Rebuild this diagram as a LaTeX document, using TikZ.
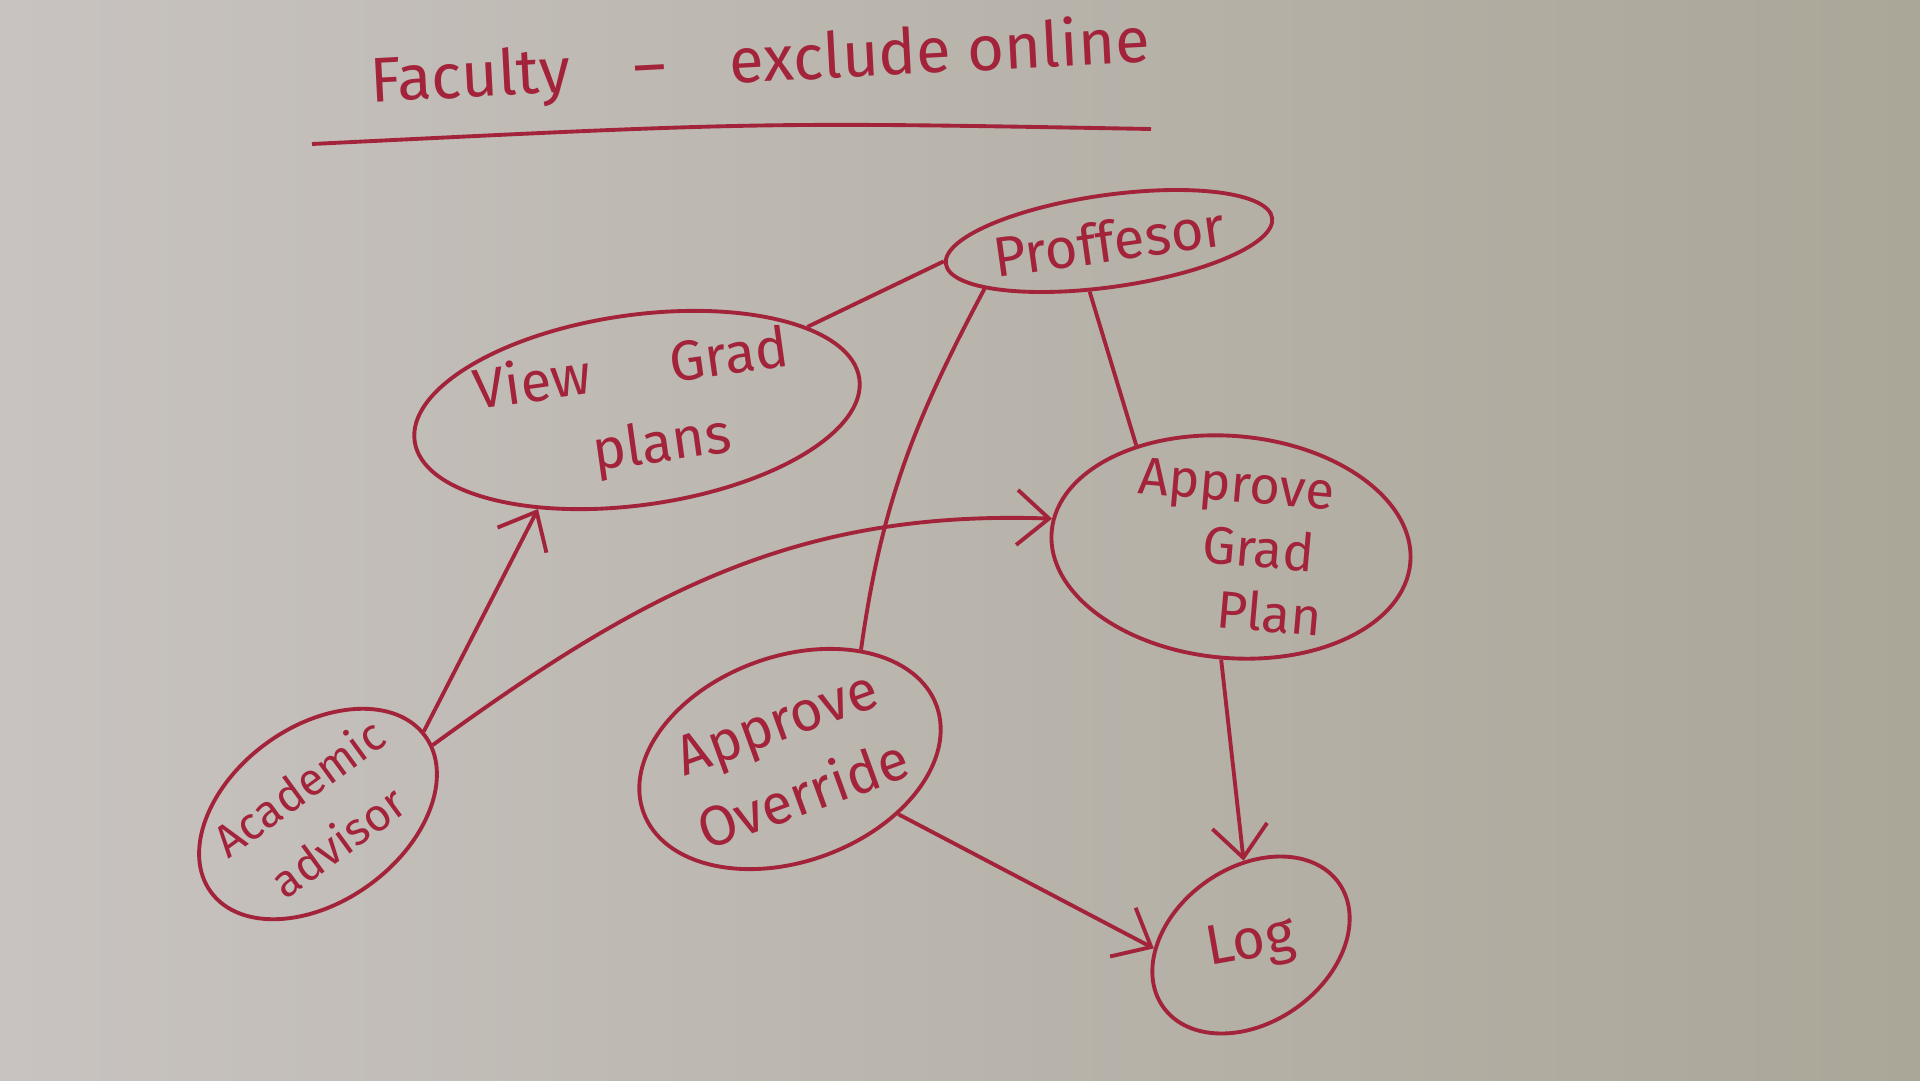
\documentclass[tikz,border=0pt]{standalone}
\usepackage{fontspec}
\setmainfont{Fira Sans}
\usepackage{tikz}
\usetikzlibrary{arrows.meta,shapes.geometric}
\definecolor{wbink}{HTML}{A3243A}
\definecolor{wbleft}{HTML}{C8C3C0}
\definecolor{wbright}{HTML}{AAA698}

\begin{document}
\begin{tikzpicture}[x=0.1mm,y=0.1mm,
  uc/.style={ellipse,draw=wbink,line width=1.1pt,inner sep=0pt,align=center,
    text=wbink,font=\fontsize{16}{22}\selectfont},
  link/.style={wbink,line width=1.1pt},
  arr/.style={link,-{Straight Barb[length=3.2mm,width=5.5mm]}}]
  \useasboundingbox (0,0) rectangle (1920,1080);
  \shade[left color=wbleft,right color=wbright] (0,0) rectangle (1920,1080);
  \node[text=wbink,font=\fontsize{18}{22}\selectfont,rotate=3] (title) at (760,1016)
    {Faculty\quad--\quad exclude online};
  \coordinate (rulea) at (312,936);
  \coordinate (ruleb) at (1151,951);
  \draw[link] (rulea) .. controls (760,958) .. (ruleb);
  \node[uc,minimum width=31mm,minimum height=9.2mm,rotate=8] (prof) at (1109,839) {Proffesor};
  \node[uc,minimum width=37.5mm,minimum height=19mm,rotate=8] (view) at (637,670)
    {View\hspace{8mm}Grad\\\hspace*{4mm}plans};
  \node[uc,minimum width=36mm,minimum height=22.2mm,rotate=-5,align=left,
    font=\fontsize{15}{18}\selectfont,inner ysep=-4mm] (approve) at (1231,533)
    {Approve\\\hspace*{7mm}Grad\\\hspace*{9mm}Plan};
  \node[uc,minimum width=26.5mm,minimum height=17.5mm,rotate=36,
    font=\fontsize{13}{19}\selectfont,inner xsep=-4mm,inner ysep=-2mm] (advisor) at (318,266)
    {Academic\\advisor};
  \node[uc,minimum width=31mm,minimum height=20.5mm,rotate=20] (override) at (790,321)
    {Approve\\Override};
  \node[uc,minimum width=21.5mm,minimum height=15.5mm,rotate=35] (log) at (1251,135)
    {\rotatebox{-25}{Log}};
  \draw[link] (view.18) -- (prof.179);
  \draw[link] (prof.193) to[out=242,in=82] (override.37);
  \draw[link] (approve.138) -- (prof.241);
  \draw[arr] (advisor.2) -- (view.217);
  \draw[arr] (advisor.355) to[out=36,in=178] (approve.176);
  \draw[arr] (approve.270) -- (log.60);
  \draw[arr] (override.313) -- (log.147);
\end{tikzpicture}
\end{document}
